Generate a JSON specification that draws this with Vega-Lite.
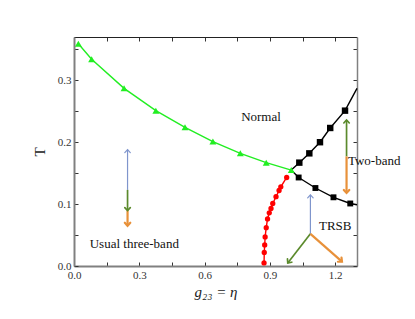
{
  "$schema": "https://vega.github.io/schema/vega-lite/v6.json",
  "width": 283,
  "height": 229,
  "autosize": {"type": "none"},
  "padding": {"left": 74, "top": 37, "right": 58, "bottom": 53},
  "background": "white",
  "config": {"view": {"stroke": null}, "font": "Liberation Serif"},
  "datasets": {
    "curves": [
      {"series": "three-band", "x": 0.02, "y": 0.359, "marker": true},
      {"series": "three-band", "x": 0.081, "y": 0.334, "marker": true},
      {"series": "three-band", "x": 0.23, "y": 0.287, "marker": true},
      {"series": "three-band", "x": 0.376, "y": 0.251, "marker": true},
      {"series": "three-band", "x": 0.51, "y": 0.224, "marker": true},
      {"series": "three-band", "x": 0.638, "y": 0.201, "marker": true},
      {"series": "three-band", "x": 0.764, "y": 0.182, "marker": true},
      {"series": "three-band", "x": 0.883, "y": 0.167, "marker": true},
      {"series": "three-band", "x": 0.998, "y": 0.155, "marker": true},
      {"series": "two-band upper", "x": 0.998, "y": 0.155, "marker": false},
      {"series": "two-band upper", "x": 1.035, "y": 0.167, "marker": true},
      {"series": "two-band upper", "x": 1.081, "y": 0.182, "marker": true},
      {"series": "two-band upper", "x": 1.13, "y": 0.2, "marker": true},
      {"series": "two-band upper", "x": 1.177, "y": 0.223, "marker": true},
      {"series": "two-band upper", "x": 1.245, "y": 0.251, "marker": true},
      {"series": "two-band upper", "x": 1.3, "y": 0.287, "marker": false},
      {"series": "two-band lower", "x": 0.998, "y": 0.155, "marker": false},
      {"series": "two-band lower", "x": 1.032, "y": 0.143, "marker": true},
      {"series": "two-band lower", "x": 1.109, "y": 0.126, "marker": true},
      {"series": "two-band lower", "x": 1.192, "y": 0.111, "marker": true},
      {"series": "two-band lower", "x": 1.269, "y": 0.101, "marker": true},
      {"series": "two-band lower", "x": 1.3, "y": 0.099, "marker": false},
      {"series": "TRSB", "x": 0.873, "y": 0.005, "marker": true},
      {"series": "TRSB", "x": 0.874, "y": 0.022, "marker": true},
      {"series": "TRSB", "x": 0.876, "y": 0.034, "marker": true},
      {"series": "TRSB", "x": 0.878, "y": 0.047, "marker": true},
      {"series": "TRSB", "x": 0.883, "y": 0.062, "marker": true},
      {"series": "TRSB", "x": 0.889, "y": 0.076, "marker": true},
      {"series": "TRSB", "x": 0.897, "y": 0.086, "marker": true},
      {"series": "TRSB", "x": 0.905, "y": 0.093, "marker": true},
      {"series": "TRSB", "x": 0.913, "y": 0.101, "marker": true},
      {"series": "TRSB", "x": 0.928, "y": 0.112, "marker": true},
      {"series": "TRSB", "x": 0.942, "y": 0.122, "marker": true},
      {"series": "TRSB", "x": 0.95, "y": 0.128, "marker": true},
      {"series": "TRSB", "x": 0.977, "y": 0.143, "marker": true}
    ],
    "arrows": [
      {"kind": "blue", "x": 0.246, "y": 0.123, "x2": 0.246, "y2": 0.188, "heading": 0},
      {"kind": "green", "x": 0.246, "y": 0.123, "x2": 0.246, "y2": 0.0895, "heading": 180},
      {"kind": "orange", "x": 0.246, "y": 0.09, "x2": 0.246, "y2": 0.065, "heading": 180},
      {"kind": "green", "x": 1.252, "y": 0.177, "x2": 1.252, "y2": 0.236, "heading": 0},
      {"kind": "orange", "x": 1.252, "y": 0.177, "x2": 1.252, "y2": 0.118, "heading": 180},
      {"kind": "blue", "x": 1.086, "y": 0.052, "x2": 1.086, "y2": 0.115, "heading": 0},
      {"kind": "green", "x": 1.086, "y": 0.052, "x2": 0.982, "y2": 0.005, "heading": 218},
      {"kind": "orange", "x": 1.086, "y": 0.052, "x2": 1.231, "y2": 0.007, "heading": 131}
    ],
    "labels": [
      {"text": "Normal", "x": 0.859, "y": 0.241},
      {"text": "Two-band", "x": 1.379, "y": 0.17},
      {"text": "TRSB", "x": 1.2, "y": 0.064},
      {"text": "Usual three-band", "x": 0.277, "y": 0.036}
    ]
  },
  "layer": [
    {
      "data": {"name": "curves"},
      "mark": {"type": "line", "strokeWidth": 1.4},
      "encoding": {
        "x": {
          "field": "x", "type": "quantitative",
          "scale": {"domain": [0, 1.3], "nice": false, "zero": false},
          "axis": {
            "orient": "bottom",
            "values": [0, 0.15, 0.3, 0.45, 0.6, 0.75, 0.9, 1.05, 1.2],
            "labelExpr": "(round(datum.value*100) % 30 == 0) ? format(datum.value, '.1f') : ''",
            "title": "g₂₃ = η",
            "titleFont": "Liberation Serif", "titleFontStyle": "italic", "titleFontWeight": "normal",
            "titleFontSize": 15, "titleColor": "#222", "titlePadding": 4,
            "labelFont": "Liberation Serif", "labelFontSize": 11, "labelColor": "#333",
            "labelPadding": 7, "tickSize": -4, "tickColor": "#333", "tickWidth": 1,
            "domainColor": "#808080", "domainWidth": 2, "grid": false, "labelFlush": false
          }
        },
        "y": {
          "field": "y", "type": "quantitative",
          "scale": {"domain": [0, 0.37], "nice": false, "zero": false},
          "axis": {
            "orient": "left",
            "values": [0, 0.05, 0.1, 0.15, 0.2, 0.25, 0.3, 0.35],
            "labelExpr": "(round(datum.value*100) % 10 == 0) ? format(datum.value, '.1f') : ''",
            "title": "T",
            "titleFont": "Liberation Serif", "titleFontWeight": "normal",
            "titleFontSize": 15, "titleColor": "#222", "titlePadding": 10,
            "labelFont": "Liberation Serif", "labelFontSize": 11, "labelColor": "#333",
            "labelPadding": 7, "tickSize": -4, "tickColor": "#333", "tickWidth": 1,
            "domainColor": "#808080", "domainWidth": 2, "grid": false, "labelFlush": false
          }
        },
        "color": {
          "field": "series", "type": "nominal",
          "scale": {"domain": ["three-band", "two-band upper", "two-band lower", "TRSB", "blue", "green", "orange"], "range": ["#22ee22", "#000000", "#000000", "#ff0000", "#7f95cc", "#5b8a2c", "#e8913a"]},
          "legend": null
        }
      }
    },
    {
      "data": {"name": "curves"},
      "transform": [{"filter": "datum.marker"}],
      "mark": {"type": "point", "filled": true, "opacity": 1},
      "encoding": {
        "x": {
          "field": "x", "type": "quantitative",
          "scale": {"domain": [0, 1.3], "nice": false, "zero": false},
          "axis": {
            "orient": "top", "values": [0, 0.15, 0.3, 0.45, 0.6, 0.75, 0.9, 1.05, 1.2],
            "labels": false, "title": null, "tickSize": -4, "tickColor": "#333",
            "domainColor": "#222", "domainWidth": 1, "grid": false
          }
        },
        "y": {
          "field": "y", "type": "quantitative",
          "scale": {"domain": [0, 0.37], "nice": false, "zero": false},
          "axis": {
            "orient": "right", "values": [0, 0.05, 0.1, 0.15, 0.2, 0.25, 0.3, 0.35],
            "labels": false, "title": null, "tickSize": -4, "tickColor": "#333",
            "domainColor": "#808080", "domainWidth": 1.5, "grid": false
          }
        },
        "color": {
          "field": "series", "type": "nominal",
          "scale": {"domain": ["three-band", "two-band upper", "two-band lower", "TRSB", "blue", "green", "orange"], "range": ["#22ee22", "#000000", "#000000", "#ff0000", "#7f95cc", "#5b8a2c", "#e8913a"]},
          "legend": null
        },
        "shape": {
          "field": "series", "type": "nominal",
          "scale": {"domain": ["three-band", "two-band upper", "two-band lower", "TRSB"], "range": ["triangle-up", "square", "square", "circle"]},
          "legend": null
        },
        "size": {
          "field": "series", "type": "nominal",
          "scale": {"domain": ["three-band", "two-band upper", "two-band lower", "TRSB"], "range": [48, 28, 28, 44]},
          "legend": null
        }
      }
    },
    {
      "data": {"name": "arrows"},
      "mark": {"type": "rule"},
      "encoding": {
        "x": {"field": "x", "type": "quantitative", "axis": null},
        "y": {"field": "y", "type": "quantitative", "axis": null},
        "x2": {"field": "x2"},
        "y2": {"field": "y2"},
        "color": {
          "field": "kind", "type": "nominal",
          "scale": {"domain": ["three-band", "two-band upper", "two-band lower", "TRSB", "blue", "green", "orange"], "range": ["#22ee22", "#000000", "#000000", "#ff0000", "#7f95cc", "#5b8a2c", "#e8913a"]},
          "legend": null
        },
        "strokeWidth": {
          "field": "kind", "type": "nominal",
          "scale": {"domain": ["blue", "green", "orange"], "range": [1.2, 2.2, 1.2]},
          "legend": null
        }
      }
    },
    {
      "data": {"name": "arrows"},
      "mark": {"type": "point", "filled": false, "shape": "M -1 1.1 L 0 0 L 1 1.1", "opacity": 1, "strokeCap": "round", "strokeJoin": "miter", "size": 30},
      "encoding": {
        "x": {"field": "x2", "type": "quantitative", "axis": null},
        "y": {"field": "y2", "type": "quantitative", "axis": null},
        "angle": {"field": "heading", "type": "quantitative", "scale": null},
        "color": {
          "field": "kind", "type": "nominal",
          "scale": {"domain": ["three-band", "two-band upper", "two-band lower", "TRSB", "blue", "green", "orange"], "range": ["#22ee22", "#000000", "#000000", "#ff0000", "#7f95cc", "#5b8a2c", "#e8913a"]},
          "legend": null
        },
        "strokeWidth": {
          "field": "kind", "type": "nominal",
          "scale": {"domain": ["blue", "green", "orange"], "range": [1.2, 2.2, 1.2]},
          "legend": null
        }
      }
    },
    {
      "data": {"name": "labels"},
      "mark": {"type": "text", "font": "Liberation Serif", "fontSize": 13, "color": "#111", "align": "center", "baseline": "middle"},
      "encoding": {
        "x": {"field": "x", "type": "quantitative", "axis": null},
        "y": {"field": "y", "type": "quantitative", "axis": null},
        "text": {"field": "text", "type": "nominal"}
      }
    }
  ],
  "resolve": {"axis": {"x": "independent", "y": "independent"}}
}
